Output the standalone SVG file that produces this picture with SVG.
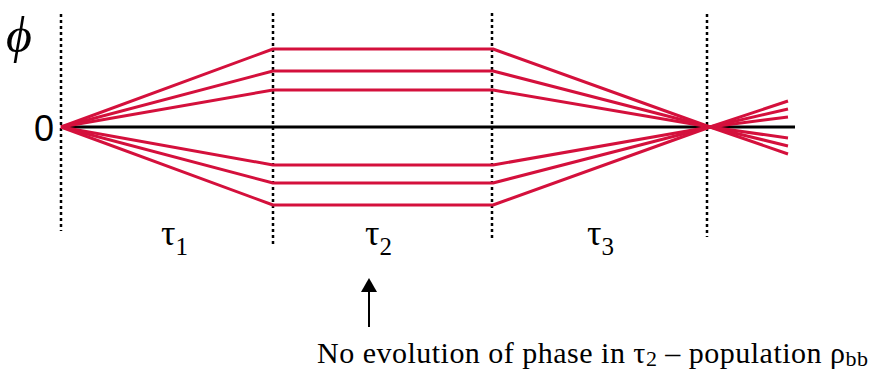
<svg xmlns="http://www.w3.org/2000/svg" width="882" height="373" viewBox="0 0 882 373">
<style>
.dot{stroke:#000;stroke-width:2.5;stroke-dasharray:3 3;fill:none}
.red{stroke:#d4103c;stroke-width:3;fill:none;stroke-linejoin:round}
.axis{stroke:#000;stroke-width:3}
.serif{font-family:"Liberation Serif","Times New Roman",serif;fill:#000}
.sans{font-family:"Liberation Sans",Arial,sans-serif;fill:#000}
</style>
<g id="grid">
<line class="dot" x1="61" y1="14" x2="61" y2="231"/>
<line class="dot" x1="273" y1="13" x2="273" y2="245"/>
<line class="dot" x1="492" y1="13" x2="492" y2="240"/>
<line class="dot" x1="707" y1="14" x2="707" y2="237"/>
</g>
<g id="axis">
<line class="axis" x1="61" y1="127" x2="795" y2="127"/>
</g>
<g id="paths">
<polyline class="red" points="61,127 273,49 493,49 710,127 788,154"/>
<polyline class="red" points="61,127 273,71 493,71 710,127 788,146"/>
<polyline class="red" points="61,127 273,90 493,90 710,127 788,138"/>
<polyline class="red" points="61,127 273,165 493,165 710,127 788,117"/>
<polyline class="red" points="61,127 273,183 493,183 710,127 788,109"/>
<polyline class="red" points="61,127 273,205 493,205 710,127 788,101"/>
</g>
<g id="labels">
<text class="serif" x="6" y="52" font-size="50" font-style="italic">ϕ</text>
<text class="sans" x="34" y="141" font-size="36">0</text>
<text class="serif" x="161" y="245" font-size="36">τ<tspan font-size="25" dy="10">1</tspan></text>
<text class="serif" x="365" y="245" font-size="36">τ<tspan font-size="25" dy="10">2</tspan></text>
<text class="serif" x="587" y="245" font-size="36">τ<tspan font-size="25" dy="10">3</tspan></text>
</g>
<g id="connectors">
<line x1="369" y1="327" x2="369" y2="290" stroke="#000" stroke-width="2"/>
<polygon points="369,278 377,292 361,292" fill="#000"/>
</g>
<g id="caption">
<text class="serif" x="317" y="363" font-size="30" textLength="551" lengthAdjust="spacing">No evolution of phase in τ<tspan font-size="22" dy="3">2</tspan><tspan dy="-3"> – population ρ</tspan><tspan font-size="22" dy="3">bb</tspan></text>
</g>
</svg>
